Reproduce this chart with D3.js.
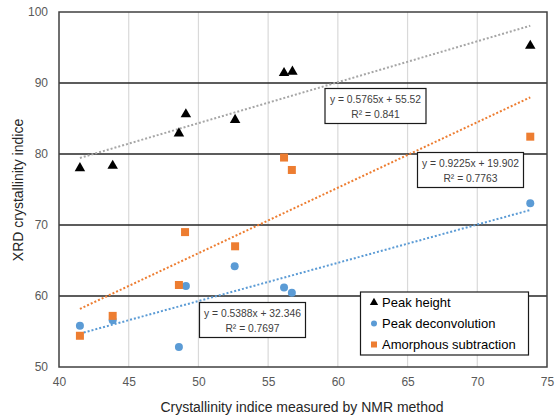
<!DOCTYPE html>
<html><head><meta charset="utf-8">
<script src="https://cdn.jsdelivr.net/npm/d3@7"></script>
<style>body{margin:0;background:#fff}svg{display:block;font-family:"Liberation Sans",Arial,sans-serif}</style>
</head><body>
<svg id="c" width="558" height="417"></svg>
<script>
const xTicks = [40,45,50,55,60,65,70,75];
const yTicks = [50,60,70,80,90,100];
const peakHeightX = [41.5,43.85,48.6,49.1,52.63,56.14,56.74,73.8];
const peakHeightY = [78.0,78.35,82.9,85.6,84.8,91.4,91.6,95.25];
const deconvX = [41.5,43.85,48.6,49.1,52.6,56.14,56.7,73.8];
const deconvY = [55.8,56.6,52.8,61.4,64.2,61.2,60.46,73.06];
const amorphX = [41.5,43.85,48.6,49.04,52.63,56.14,56.7,73.8];
const amorphY = [54.4,57.2,61.55,69.0,67.0,79.5,77.75,82.44];
const seriesNames = ["Peak height","Peak deconvolution","Amorphous subtraction"];
const trendSlope = [0.5765,0.5388,0.9225];
const trendIntercept = [55.52,32.346,19.902];
const trendLabel1 = ["y = 0.5765x + 55.52","y = 0.5388x + 32.346","y = 0.9225x + 19.902"];
const trendLabel2 = ["R² = 0.841","R² = 0.7697","R² = 0.7763"];

const svg = d3.select("#c");
const L=59,R=547,T=12,B=367;
const x = d3.scaleLinear().domain([40,75]).range([L,R]);
const y = d3.scaleLinear().domain([50,100]).range([B,T]);
const colors = ["#000000","#5B9BD5","#ED7D31"];
const trendColors = ["#A6A6A6","#5B9BD5","#ED7D31"];

svg.append("g").selectAll("line").data(xTicks.slice(1,-1)).join("line")
  .attr("x1",d=>x(d)).attr("x2",d=>x(d)).attr("y1",T).attr("y2",B)
  .attr("stroke","#D9D9D9").attr("stroke-width",1.2);
svg.append("g").selectAll("line").data(yTicks.slice(1,-1)).join("line")
  .attr("x1",L).attr("x2",R).attr("y1",d=>y(d)).attr("y2",d=>y(d))
  .attr("stroke","#262626").attr("stroke-width",1.3);
svg.append("rect").attr("x",L).attr("y",T).attr("width",R-L).attr("height",B-T)
  .attr("fill","none").attr("stroke","#404040").attr("stroke-width",1.5);

const ax = svg.append("g").attr("transform",`translate(0,${B})`)
  .call(d3.axisBottom(x).tickValues(xTicks).tickSize(0).tickPadding(10));
ax.select(".domain").remove();
ax.selectAll("text").attr("font-size",12).attr("fill","#595959").attr("font-family","Liberation Sans, Arial");
const ay = svg.append("g").attr("transform",`translate(${L},0)`)
  .call(d3.axisLeft(y).tickValues(yTicks).tickSize(0).tickPadding(11));
ay.select(".domain").remove();
ay.selectAll("text").attr("font-size",12).attr("fill","#595959").attr("font-family","Liberation Sans, Arial");

const xs=[d3.min(peakHeightX),d3.max(peakHeightX)];
trendSlope.forEach((m,i)=>{
  svg.append("line").attr("x1",x(xs[0])).attr("x2",x(xs[1]))
    .attr("y1",y(m*xs[0]+trendIntercept[i])).attr("y2",y(m*xs[1]+trendIntercept[i]))
    .attr("stroke",trendColors[i]).attr("stroke-width",2).attr("stroke-dasharray","2,2");
});

const tri = d3.symbol().type(d3.symbolTriangle).size(48);
svg.append("g").selectAll("path").data(d3.zip(peakHeightX,peakHeightY)).join("path")
  .attr("d",tri).attr("transform",d=>`translate(${x(d[0])},${y(d[1])})`).attr("fill",colors[0]);
svg.append("g").selectAll("circle").data(d3.zip(deconvX,deconvY)).join("circle")
  .attr("cx",d=>x(d[0])).attr("cy",d=>y(d[1])).attr("r",4).attr("fill",colors[1]);
svg.append("g").selectAll("rect").data(d3.zip(amorphX,amorphY)).join("rect")
  .attr("x",d=>x(d[0])-4).attr("y",d=>y(d[1])-4).attr("width",8).attr("height",8).attr("fill",colors[2]);

const boxes = [[325,88.5,101,35],[199.5,302.5,106,35],[417.5,152.5,106,35]];
boxes.forEach((b,i)=>{
  const g=svg.append("g");
  g.append("rect").attr("x",b[0]).attr("y",b[1]).attr("width",b[2]).attr("height",b[3])
    .attr("fill","#fff").attr("stroke","#1a1a1a").attr("stroke-width",1.2);
  g.append("text").attr("x",b[0]+b[2]/2).attr("y",b[1]+14).attr("text-anchor","middle")
    .attr("font-size",10.3).attr("fill","#404040").text(trendLabel1[i]);
  g.append("text").attr("x",b[0]+b[2]/2).attr("y",b[1]+29).attr("text-anchor","middle")
    .attr("font-size",10.3).attr("fill","#404040").text(trendLabel2[i]);
});

const lg=svg.append("g");
lg.append("rect").attr("x",360.5).attr("y",292).attr("width",168).attr("height",63)
  .attr("fill","#fff").attr("stroke","#1a1a1a").attr("stroke-width",1.2);
seriesNames.forEach((n,i)=>{
  const cy=302.5+i*21;
  if(i===0) lg.append("path").attr("d",d3.symbol().type(d3.symbolTriangle).size(30)).attr("transform",`translate(374,${cy})`).attr("fill",colors[0]);
  if(i===1) lg.append("circle").attr("cx",374).attr("cy",cy).attr("r",3).attr("fill",colors[1]);
  if(i===2) lg.append("rect").attr("x",371).attr("y",cy-3).attr("width",6).attr("height",6).attr("fill",colors[2]);
  lg.append("text").attr("x",382).attr("y",cy+4.5).attr("font-size",13).attr("fill","#000").text(n);
});

svg.append("text").attr("x",302).attr("y",412).attr("text-anchor","middle")
  .attr("font-size",14).attr("fill","#262626").text("Crystallinity indice measured by NMR method");
svg.append("text").attr("transform","translate(23,190) rotate(-90)").attr("text-anchor","middle")
  .attr("font-size",14).attr("fill","#262626").text("XRD crystallinity indice");
</script>
</body></html>
